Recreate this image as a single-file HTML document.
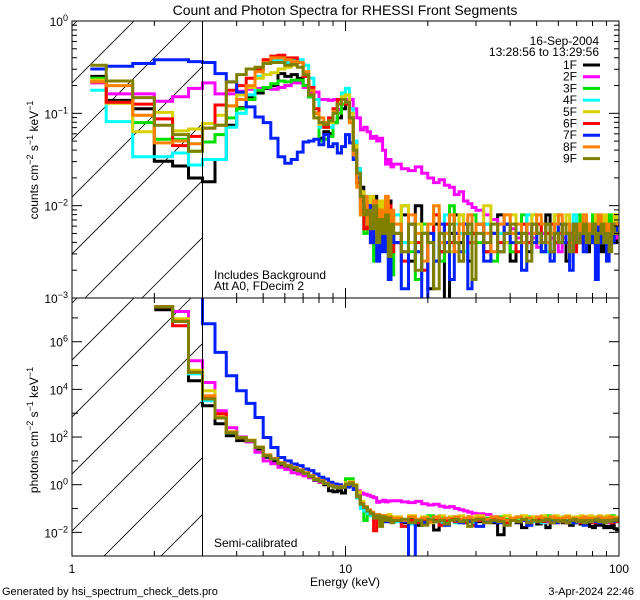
<!DOCTYPE html>
<html><head><meta charset="utf-8"><style>
html,body{margin:0;padding:0;background:#fff;overflow:hidden;width:640px;height:600px}
svg{display:block;font-family:"Liberation Sans",sans-serif;overflow:hidden}
</style></head><body>
<svg id="chart" width="640" height="600" viewBox="0 0 640 600" xmlns="http://www.w3.org/2000/svg">
<defs>
<clipPath id="clipTop"><rect x="72" y="21" width="547" height="277"/></clipPath>
<clipPath id="clipBot"><rect x="72" y="298" width="547" height="258"/></clipPath>
<clipPath id="hatchTop"><rect x="72" y="21" width="130" height="277"/></clipPath>
<clipPath id="hatchBot"><rect x="72" y="298" width="130" height="258"/></clipPath>
</defs>
<rect width="640" height="600" fill="#fff"/>
<text x="345" y="15" font-size="14" text-anchor="middle">Count and Photon Spectra for RHESSI Front Segments</text>
<g id="hatch"></g>
<g id="series"></g>
<g id="axes" stroke="#000" fill="none" stroke-width="1"></g>
<g id="labels" font-size="12"></g>
<text transform="translate(38,160) rotate(-90)" font-size="12" text-anchor="middle">counts cm<tspan baseline-shift="super" font-size="9">−2</tspan> s<tspan baseline-shift="super" font-size="9">−1</tspan> keV<tspan baseline-shift="super" font-size="9">−1</tspan></text>
<text transform="translate(38,430) rotate(-90)" font-size="12" text-anchor="middle">photons cm<tspan baseline-shift="super" font-size="9">−2</tspan> s<tspan baseline-shift="super" font-size="9">−1</tspan> keV<tspan baseline-shift="super" font-size="9">−1</tspan></text>
<text x="345" y="586" font-size="12" text-anchor="middle">Energy (keV)</text>
<text x="214" y="279" font-size="12">Includes Background</text>
<text x="214" y="290" font-size="12">Att A0, FDecim 2</text>
<text x="214" y="547" font-size="12">Semi-calibrated</text>
<text x="599" y="45" font-size="12" text-anchor="end">16-Sep-2004</text>
<text x="599" y="56" font-size="12" text-anchor="end">13:28:56 to 13:29:56</text>
<g id="legend" font-size="12"></g>
<text x="2" y="595" font-size="11">Generated by hsi_spectrum_check_dets.pro</text>
<text x="634" y="595" font-size="11" text-anchor="end">3-Apr-2024 22:46</text>
</svg>
<script>
const seriesNames = ["1F","2F","3F","4F","5F","6F","7F","8F","9F"];
const seriesColors = ["#000000","#ff00ff","#00e000","#00ffff","#d8d000","#ff0000","#0020ff","#ff8000","#808000"];
const energyEdges = [1.1667].concat(Array.from({length:42},(_,k)=>1.3333+k/3))
  .concat([16,17,18,19,20,21,22,23,24,25,26,27,28,29,30])
  .concat(Array.from({length:35},(_,k)=>32+2*k));
const count1F=[-0.60,-0.86,-0.95,-1.52,-1.57,-1.70,-1.74,-1.50,-1.13,-0.94,-0.82,-0.78,-0.73,-0.70,-0.57,-0.60,-0.58,-0.62,-0.70,-0.82,-1.00,-1.27,-1.20,-1.22,-1.10,-1.05,-0.95,-0.90,-1.05,-1.30,-1.60,-1.80,-1.95,-2.05,-2.00,-1.90,-2.10,-2.30,-2.00,-2.20,-1.95,-2.30,
-2.4,-2.1,-2.6,-2.0,-2.3,-2.9,-2.2,-2.5,-3.1,-2.3,-2.1,-2.4,-2.2,-2.6,-2.3,-2.2,-2.5,-2.3,-2.1,-2.4,-2.6,-2.3,-2.2,-2.5,-2.2,-2.4,-2.3,-2.1,-2.5,-2.3,-2.2,-2.4,-2.6,-2.3,-2.2,-2.4,-2.2,-2.3,-2.5,-2.3,-2.2,-2.4,-2.3,-2.5,-2.2,-2.3,-2.4,-2.2,-2.4,-2.3];
const count2F=[-0.67,-0.79,-0.79,-0.87,-0.82,-0.73,-0.67,-0.79,-0.79,-0.76,-0.74,-0.73,-0.72,-0.74,-0.72,-0.70,-0.67,-0.67,-0.72,-0.77,-0.77,-0.85,-0.85,-0.86,-0.85,-0.96,-0.90,-0.85,-0.85,-0.95,-1.05,-1.18,-1.15,-1.20,-1.27,-1.25,-1.30,-1.27,-1.40,-1.55,-1.50,-1.58,
-1.55,-1.60,-1.62,-1.58,-1.65,-1.70,-1.75,-1.72,-1.78,-1.80,-1.88,-1.85,-1.95,-1.98,-2.02,-2.05,-2.10,-2.15,-2.20,-2.30,-2.25,-2.35,-2.40,-2.30,-2.35,-2.45,-2.30,-2.40,-2.35,-2.40,-2.50,-2.35,-2.40,-2.30,-2.45,-2.35,-2.40,-2.30,-2.35,-2.40,-2.30,-2.45,-2.35,-2.40,-2.30,-2.35,-2.40,-2.30,-2.35,-2.30];
const count3F=[-0.62,-0.88,-1.10,-1.28,-1.28,-1.41,-1.31,-1.23,-1.05,-0.95,-0.85,-0.75,-0.72,-0.68,-0.65,-0.66,-0.64,-0.64,-0.70,-0.82,-1.00,-1.30,-1.28,-1.25,-1.10,-1.00,-0.90,-0.88,-1.10,-1.45,-1.75,-2.10,-2.30,-2.00,-2.20,-2.60,-2.10,-2.30,-2.00,-2.40,-2.20,-2.75,
-2.3,-2.0,-2.5,-2.8,-2.2,-2.4,-2.1,-2.6,-2.3,-2.0,-2.4,-2.2,-2.5,-2.3,-2.1,-2.4,-2.2,-2.6,-2.3,-2.2,-2.5,-2.3,-2.1,-2.4,-2.2,-2.3,-2.5,-2.2,-2.3,-2.1,-2.4,-2.2,-2.3,-2.5,-2.2,-2.1,-2.3,-2.2,-2.4,-2.3,-2.1,-2.3,-2.2,-2.4,-2.2,-2.3,-2.1,-2.2,-2.3,-2.2];
const count4F=[-0.75,-1.09,-1.47,-1.47,-1.43,-1.56,-1.50,-1.50,-1.15,-1.00,-0.80,-0.60,-0.45,-0.42,-0.42,-0.45,-0.43,-0.42,-0.48,-0.62,-0.85,-1.15,-1.10,-1.15,-1.00,-0.90,-0.78,-0.73,-0.95,-1.30,-1.60,-1.95,-2.20,-1.90,-2.10,-2.40,-2.00,-1.95,-2.20,-2.05,-2.35,-2.15,
-2.1,-2.4,-2.2,-2.5,-2.3,-2.2,-2.6,-2.3,-2.1,-2.4,-2.2,-2.3,-2.5,-2.2,-2.4,-2.3,-2.2,-2.5,-2.3,-2.2,-2.4,-2.2,-2.3,-2.1,-2.4,-2.3,-2.2,-2.5,-2.3,-2.2,-2.3,-2.4,-2.2,-2.3,-2.1,-2.4,-2.3,-2.2,-2.3,-2.4,-2.2,-2.3,-2.2,-2.4,-2.3,-2.2,-2.3,-2.2,-2.3,-2.2];
const count5F=[-0.64,-0.89,-1.20,-0.99,-1.19,-1.17,-1.11,-1.02,-0.92,-0.80,-0.72,-0.62,-0.58,-0.56,-0.52,-0.50,-0.48,-0.45,-0.55,-0.75,-1.05,-1.12,-1.15,-1.10,-0.98,-0.88,-0.82,-0.80,-1.00,-1.35,-1.70,-1.85,-1.95,-2.15,-1.90,-2.05,-2.30,-1.95,-2.20,-2.05,-2.30,-2.10,
-2.2,-2.0,-2.4,-2.2,-2.6,-2.3,-2.1,-2.4,-2.2,-2.5,-2.3,-2.1,-2.3,-2.2,-2.4,-2.2,-2.0,-2.3,-2.2,-2.4,-2.1,-2.3,-2.2,-2.2,-2.1,-2.4,-2.2,-2.3,-2.2,-2.1,-2.3,-2.2,-2.1,-2.3,-2.2,-2.4,-2.2,-2.1,-2.3,-2.2,-2.2,-2.1,-2.3,-2.2,-2.1,-2.2,-2.3,-2.2,-2.1,-2.2];
const count6F=[-0.66,-0.88,-0.90,-1.06,-1.35,-1.25,-1.16,-0.91,-0.75,-0.70,-0.62,-0.52,-0.42,-0.38,-0.37,-0.40,-0.40,-0.45,-0.60,-0.72,-0.95,-1.10,-1.15,-1.05,-0.95,-0.85,-0.85,-0.90,-1.05,-1.40,-1.75,-2.05,-2.25,-2.00,-2.40,-2.20,-2.05,-2.45,-2.10,-2.30,-2.00,-2.50,
-2.3,-2.6,-2.2,-2.4,-2.7,-2.3,-2.1,-2.5,-2.2,-2.4,-2.3,-2.6,-2.2,-2.4,-2.3,-2.2,-2.5,-2.3,-2.4,-2.2,-2.3,-2.5,-2.2,-2.4,-2.3,-2.2,-2.4,-2.3,-2.2,-2.4,-2.3,-2.2,-2.4,-2.3,-2.5,-2.2,-2.3,-2.4,-2.2,-2.3,-2.4,-2.2,-2.3,-2.4,-2.2,-2.3,-2.2,-2.4,-2.3,-2.3];
const count7F=[-0.52,-0.49,-0.46,-0.42,-0.42,-0.44,-0.45,-0.57,-0.66,-0.77,-0.93,-1.04,-1.10,-1.27,-1.47,-1.54,-1.50,-1.42,-1.31,-1.30,-1.28,-1.34,-1.23,-1.36,-1.33,-1.43,-1.36,-1.23,-1.32,-1.50,-1.70,-1.95,-2.10,-2.00,-2.40,-2.20,-2.60,-2.10,-2.50,-2.20,-2.80,-2.30,
-2.4,-2.9,-2.2,-2.5,-3.1,-2.3,-2.6,-2.2,-2.4,-2.8,-2.3,-2.5,-2.2,-2.9,-2.4,-2.2,-2.6,-2.3,-2.5,-2.2,-2.4,-2.3,-2.7,-2.2,-2.4,-2.3,-2.5,-2.2,-2.6,-2.3,-2.2,-2.4,-2.3,-2.7,-2.2,-2.4,-2.3,-2.5,-2.2,-2.4,-2.3,-2.8,-2.2,-2.4,-2.3,-2.6,-2.2,-2.4,-2.3,-2.2];
const count8F=[-0.66,-0.70,-1.02,-1.32,-1.30,-1.33,-1.16,-1.13,-0.92,-0.85,-0.70,-0.55,-0.45,-0.40,-0.40,-0.42,-0.44,-0.45,-0.55,-0.75,-1.00,-1.05,-1.10,-1.08,-0.98,-0.90,-0.85,-0.88,-1.10,-1.45,-1.80,-2.10,-1.90,-2.20,-2.10,-1.95,-2.30,-2.05,-2.25,-1.90,-2.35,-2.05,
-2.2,-2.5,-2.1,-2.3,-2.6,-2.2,-2.0,-2.4,-2.3,-2.1,-2.5,-2.2,-2.3,-2.1,-2.4,-2.2,-2.3,-2.5,-2.2,-2.1,-2.3,-2.2,-2.4,-2.2,-2.3,-2.1,-2.2,-2.4,-2.3,-2.2,-2.1,-2.3,-2.2,-2.4,-2.3,-2.2,-2.3,-2.1,-2.3,-2.2,-2.3,-2.2,-2.1,-2.3,-2.2,-2.3,-2.2,-2.3,-2.2,-2.2];
const count9F=[-0.48,-0.65,-0.83,-1.13,-1.23,-1.41,-1.16,-1.13,-0.66,-0.58,-0.52,-0.50,-0.46,-0.45,-0.45,-0.48,-0.47,-0.50,-0.58,-0.80,-1.05,-1.10,-1.12,-1.08,-1.00,-0.90,-0.85,-0.88,-1.05,-1.40,-1.65,-1.90,-2.10,-2.05,-2.25,-2.00,-2.40,-2.15,-2.30,-2.10,-2.55,-2.20,
-2.3,-2.5,-2.2,-2.7,-2.3,-2.4,-2.9,-2.3,-2.5,-2.2,-2.4,-2.6,-2.3,-2.2,-2.8,-2.3,-2.4,-2.2,-2.5,-2.3,-2.2,-2.4,-2.3,-2.6,-2.2,-2.3,-2.4,-2.2,-2.5,-2.3,-2.4,-2.2,-2.3,-2.5,-2.2,-2.4,-2.3,-2.2,-2.4,-2.3,-2.2,-2.4,-2.3,-2.2,-2.4,-2.3,-2.5,-2.2,-2.3,-2.3];
const photon1F=[null,null,null,7.34,6.88,4.36,3.31,2.56,2.05,1.85,1.80,1.50,1.15,1.00,0.85,0.75,0.65,0.55,0.42,0.30,0.18,0.10,0.00,-0.25,-0.30,-0.25,-0.35,-0.05,0.05,-0.10,-0.55,-0.85,-1.00,-1.15,-1.25,-1.40,-1.35,-1.50,-1.40,-1.55,-1.45,-1.50,
-1.5,-1.6,-1.45,-1.7,-1.5,-1.55,-1.9,-1.5,-1.6,-1.45,-1.55,-1.5,-1.6,-1.45,-1.7,-1.55,-1.5,-1.6,-2.1,-1.55,-1.5,-1.6,-1.8,-1.55,-1.5,-1.65,-1.5,-1.8,-1.6,-1.55,-1.5,-1.6,-1.55,-1.7,-1.6,-1.5,-1.65,-1.55,-1.6,-1.75,-1.8,-1.6,-1.7,-1.65,-1.8,-1.75,-1.8,-1.7,-1.85,-1.9];
const photon2F=[null,null,null,7.47,7.27,5.20,4.29,3.10,2.39,2.00,1.80,1.36,1.00,0.88,0.73,0.64,0.50,0.45,0.37,0.30,0.20,0.10,0.05,0.00,-0.05,-0.05,-0.10,0.00,0.05,-0.05,-0.25,-0.35,-0.40,-0.44,-0.50,-0.55,-0.74,-0.70,-0.65,-0.72,-0.68,-0.67,
-0.67,-0.72,-0.75,-0.70,-0.80,-0.85,-0.82,-0.90,-0.95,-0.92,-1.00,-1.05,-1.10,-1.15,-1.20,-1.22,-1.25,-1.35,-1.45,-1.5,-1.45,-1.55,-1.5,-1.6,-1.55,-1.5,-1.6,-1.55,-1.5,-1.6,-1.5,-1.55,-1.6,-1.5,-1.55,-1.45,-1.5,-1.6,-1.5,-1.55,-1.45,-1.5,-1.6,-1.55,-1.5,-1.55,-1.6,-1.5,-1.55,-1.5];
const photon3F=[null,null,null,7.47,6.88,4.70,3.55,2.80,2.18,1.97,1.85,1.57,1.22,1.08,0.90,0.79,0.70,0.59,0.47,0.35,0.22,0.15,0.05,-0.04,-0.10,-0.12,-0.10,0.25,0.25,0.00,-0.50,-0.85,-1.50,-1.10,-1.25,-1.35,-1.30,-1.40,-1.35,-1.50,-1.30,-1.45,
-1.4,-1.55,-1.35,-1.6,-1.45,-1.3,-1.5,-1.4,-1.55,-1.35,-1.45,-1.5,-1.4,-1.35,-1.55,-1.45,-1.4,-1.5,-1.35,-1.45,-1.5,-1.4,-1.45,-1.35,-1.5,-1.4,-1.45,-1.3,-1.5,-1.4,-1.45,-1.35,-1.5,-1.4,-1.45,-1.5,-1.4,-1.45,-1.35,-1.5,-1.4,-1.45,-1.5,-1.4,-1.35,-1.45,-1.4,-1.3,-1.45,-1.4];
const photon4F=[null,null,null,7.47,6.88,4.65,3.52,2.80,2.18,1.97,1.85,1.57,1.22,1.08,0.90,0.79,0.70,0.59,0.47,0.35,0.22,0.15,0.05,-0.04,-0.10,-0.12,-0.10,-0.05,0.05,-0.05,-0.55,-1.00,-1.10,-1.20,-1.30,-1.45,-1.35,-1.55,-1.40,-1.50,-1.45,-1.55,
-1.55,-1.5,-1.65,-1.5,-1.6,-1.45,-1.55,-1.6,-1.5,-1.45,-1.6,-1.5,-1.55,-1.45,-1.6,-1.5,-1.55,-1.5,-1.45,-1.6,-1.5,-1.55,-1.5,-1.45,-1.55,-1.5,-1.6,-1.5,-1.55,-1.45,-1.5,-1.55,-1.5,-1.6,-1.5,-1.45,-1.55,-1.5,-1.5,-1.55,-1.5,-1.45,-1.55,-1.5,-1.45,-1.5,-1.55,-1.5,-1.45,-1.5];
const photon5F=[null,null,null,7.47,6.96,4.80,3.94,2.85,2.22,1.98,1.87,1.58,1.24,1.10,0.92,0.80,0.72,0.60,0.48,0.36,0.24,0.17,0.08,0.00,-0.05,-0.08,-0.05,0.08,0.12,0.00,-0.30,-0.70,-0.95,-1.05,-1.20,-1.30,-1.25,-1.35,-1.30,-1.40,-1.25,-1.40,
-1.35,-1.5,-1.3,-1.45,-1.35,-1.6,-1.4,-1.3,-1.5,-1.35,-1.4,-1.3,-1.45,-1.35,-1.4,-1.3,-1.5,-1.35,-1.4,-1.3,-1.45,-1.35,-1.3,-1.4,-1.35,-1.45,-1.3,-1.4,-1.35,-1.3,-1.4,-1.35,-1.3,-1.45,-1.35,-1.4,-1.3,-1.35,-1.4,-1.3,-1.35,-1.4,-1.3,-1.35,-1.4,-1.3,-1.35,-1.4,-1.35,-1.4];
const photon6F=[null,null,null,7.47,6.67,4.72,3.62,2.98,2.20,1.97,1.85,1.57,1.22,1.08,0.90,0.79,0.70,0.59,0.47,0.35,0.22,0.15,0.05,-0.04,-0.10,-0.12,-0.10,0.00,0.08,-0.04,-0.50,-0.80,-0.95,-1.10,-1.20,-1.93,-1.30,-1.45,-1.35,-1.50,-1.40,-1.45,
-1.5,-1.75,-1.5,-1.6,-1.45,-1.55,-1.5,-1.7,-1.5,-1.45,-1.55,-1.5,-1.6,-1.5,-1.7,-1.5,-1.55,-1.45,-1.5,-1.6,-1.5,-1.55,-1.5,-1.65,-1.5,-1.45,-1.55,-1.5,-1.6,-1.5,-1.5,-1.55,-1.6,-1.5,-1.55,-1.5,-1.6,-1.5,-1.55,-1.5,-1.6,-1.5,-1.55,-1.5,-1.5,-1.55,-1.5,-1.6,-1.5,-1.55];
const photon7F=[null,null,null,9,9,9,6.75,5.55,4.57,3.94,3.41,2.82,1.98,1.56,1.14,1.00,0.87,0.80,0.66,0.59,0.45,0.31,0.24,0.10,0.03,0.00,-0.11,-0.10,-0.05,-0.20,-0.46,-0.80,-0.95,-1.10,-1.20,-1.35,-1.30,-1.45,-1.40,-1.55,-1.45,-1.55,
-1.5,-1.55,-4.0,-1.5,-1.6,-1.45,-1.55,-1.5,-1.7,-1.5,-1.5,-1.6,-1.45,-1.55,-1.5,-1.75,-1.5,-1.55,-1.6,-1.5,-1.45,-1.55,-1.5,-1.7,-1.5,-1.55,-1.5,-1.45,-1.55,-1.6,-1.5,-1.45,-1.55,-1.5,-1.6,-1.5,-1.55,-1.7,-1.5,-1.45,-1.55,-1.5,-1.6,-1.5,-1.55,-1.45,-1.5,-1.55,-1.5,-1.45];
const photon8F=[null,null,null,7.47,6.88,4.72,3.73,2.82,2.20,1.97,1.86,1.58,1.25,1.10,0.92,0.82,0.72,0.62,0.50,0.38,0.25,0.17,0.06,-0.02,-0.08,-0.10,-0.08,0.02,0.08,-0.02,-0.48,-0.78,-0.92,-1.05,-1.15,-1.30,-1.25,-1.40,-1.30,-1.45,-1.35,-1.40,
-1.4,-1.5,-1.35,-1.45,-1.4,-1.55,-1.35,-1.45,-1.4,-1.5,-1.35,-1.45,-1.4,-1.35,-1.5,-1.4,-1.45,-1.35,-1.4,-1.5,-1.4,-1.35,-1.45,-1.4,-1.5,-1.35,-1.4,-1.45,-1.35,-1.4,-1.45,-1.4,-1.35,-1.45,-1.4,-1.5,-1.4,-1.35,-1.45,-1.4,-1.4,-1.45,-1.35,-1.4,-1.45,-1.4,-1.35,-1.45,-1.4,-1.4];
const photon9F=[null,null,null,7.47,6.85,4.72,3.60,2.80,2.18,1.97,1.85,1.57,1.22,1.08,0.90,0.79,0.70,0.59,0.47,0.35,0.22,0.15,0.05,-0.04,-0.10,-0.12,-0.10,0.02,0.06,-0.04,-0.50,-0.82,-0.95,-1.10,-1.22,-1.40,-1.30,-1.75,-1.35,-1.50,-1.40,-1.60,
-1.5,-1.45,-1.6,-1.5,-1.7,-1.45,-1.55,-1.5,-1.65,-1.5,-1.45,-1.55,-1.5,-1.75,-1.5,-1.45,-1.6,-1.5,-1.55,-1.7,-1.5,-1.55,-1.45,-1.6,-1.5,-1.55,-1.5,-1.45,-1.6,-1.5,-1.55,-1.5,-1.6,-1.5,-1.45,-1.55,-1.5,-1.6,-1.5,-1.55,-1.5,-1.45,-1.55,-1.5,-1.6,-1.5,-1.55,-1.5,-1.45,-1.5];
const countSeries=[count1F,count2F,count3F,count4F,count5F,count6F,count7F,count8F,count9F];
const photonSeries=[photon1F,photon2F,photon3F,photon4F,photon5F,photon6F,photon7F,photon8F,photon9F];
const topTickExps=[0,-1,-2,-3];
const botTickExps=[6,4,2,0,-2];
const xTickLabels=[1,10,100];

const NS="http://www.w3.org/2000/svg";
function xOf(e){return 72+273.5*Math.log10(e);}
function yTop(v){return 21-v*92.33;}
function yBot(v){return 484.7-v*23.83;}
function mk(tag,attrs,parent){const el=document.createElementNS(NS,tag);for(const k in attrs)el.setAttribute(k,attrs[k]);parent.appendChild(el);return el;}

const hatch=document.getElementById('hatch');
for(let k=-4;k<6;k++){
  const c=155+k*57;
  const l=mk('line',{x1:c-600,y1:600,x2:c,y2:0,stroke:'#000','stroke-width':0.8,'clip-path':'url(#hatchTop)'},hatch);
  
  
  const c2=432+k*57;
  const l2=mk('line',{x1:c2-600,y1:600,x2:c2,y2:0,stroke:'#000','stroke-width':0.8,'clip-path':'url(#hatchBot)'},hatch);
  
  
}

const sg=document.getElementById('series');
function stepPath(vals,yf){
  let d="",started=false;
  for(let i=0;i<vals.length&&i<energyEdges.length-1;i++){
    const v=vals[i];
    if(v===null||v===undefined){started=false;continue;}
    const x0=xOf(energyEdges[i]).toFixed(1),x1=xOf(energyEdges[i+1]).toFixed(1),y=yf(v).toFixed(1);
    if(!started){d+=`M${x0} ${y}`;started=true;}else{d+=`V${y}`;}
    d+=`H${x1}`;
  }
  return d;
}
seriesNames.forEach((n,i)=>{
  const p=mk('path',{d:stepPath(countSeries[i],yTop),fill:'none',stroke:seriesColors[i],'stroke-width':3,'clip-path':'url(#clipTop)'},sg);
  
  
  const q=mk('path',{d:stepPath(photonSeries[i],yBot),fill:'none',stroke:seriesColors[i],'stroke-width':3,'clip-path':'url(#clipBot)'},sg);
  
  
});

const ax=document.getElementById('axes');
const fr=mk('rect',{x:72,y:21,width:547,height:535},ax);


const sep=mk('line',{x1:72,y1:298,x2:619,y2:298},ax);


const v3=mk('line',{x1:xOf(3),y1:21,x2:xOf(3),y2:556},ax);


[1,10].forEach(dec=>{for(let m=1;m<=10;m++){const e=dec*m;if(e>100)continue;const x=xOf(e);const L=(m===1||m===10)?10:5;
  [[21,1],[298,-1],[298,1],[556,-1]].forEach(([y0,dir])=>{const t=mk('line',{x1:x,y1:y0,x2:x,y2:y0+dir*L},ax);});}});
for(let d=0;d>-3;d--){for(let m=1;m<=9;m++){const y=yTop(d-1+Math.log10(m));const L=m===1?10:5;
  [[72,1],[619,-1]].forEach(([x0,dir])=>{const t=mk('line',{x1:x0,y1:y,x2:x0+dir*L,y2:y},ax);});}}
for(let d=-3;d<=8;d++){const y=yBot(d);if(y<298||y>556)continue;const L=(d%2===0)?10:6;
  [[72,1],[619,-1]].forEach(([x0,dir])=>{const t=mk('line',{x1:x0,y1:y,x2:x0+dir*L,y2:y},ax);});}

const lg=document.getElementById('labels');
function powLabel(x,y,exp,name){
  const t=mk('text',{x:x,y:y,'text-anchor':'end'},lg);
  
  
  t.appendChild(document.createTextNode('10'));
  const s=mk('tspan',{'baseline-shift':'super','font-size':9},t);
  s.textContent=exp<0?'−'+(-exp):String(exp);
}
topTickExps.forEach(e=>powLabel(68,yTop(e)+5,e,'top-y-tick-label'));
botTickExps.forEach(e=>powLabel(68,yBot(e)+5,e,'bottom-y-tick-label'));
xTickLabels.forEach(v=>{const t=mk('text',{x:xOf(v),y:573,'text-anchor':'middle'},lg);t.textContent=String(v);
  
  });

const leg=document.getElementById('legend');
seriesNames.forEach((n,i)=>{const y=65+i*11.7;
  const g=mk('g',{},leg);
  
  
  const t=mk('text',{x:577,y:y+4,'text-anchor':'end'},g);t.textContent=n;
  mk('line',{x1:583,y1:y,x2:600,y2:y,stroke:seriesColors[i],'stroke-width':3},g);
});
</script>
</body></html>
